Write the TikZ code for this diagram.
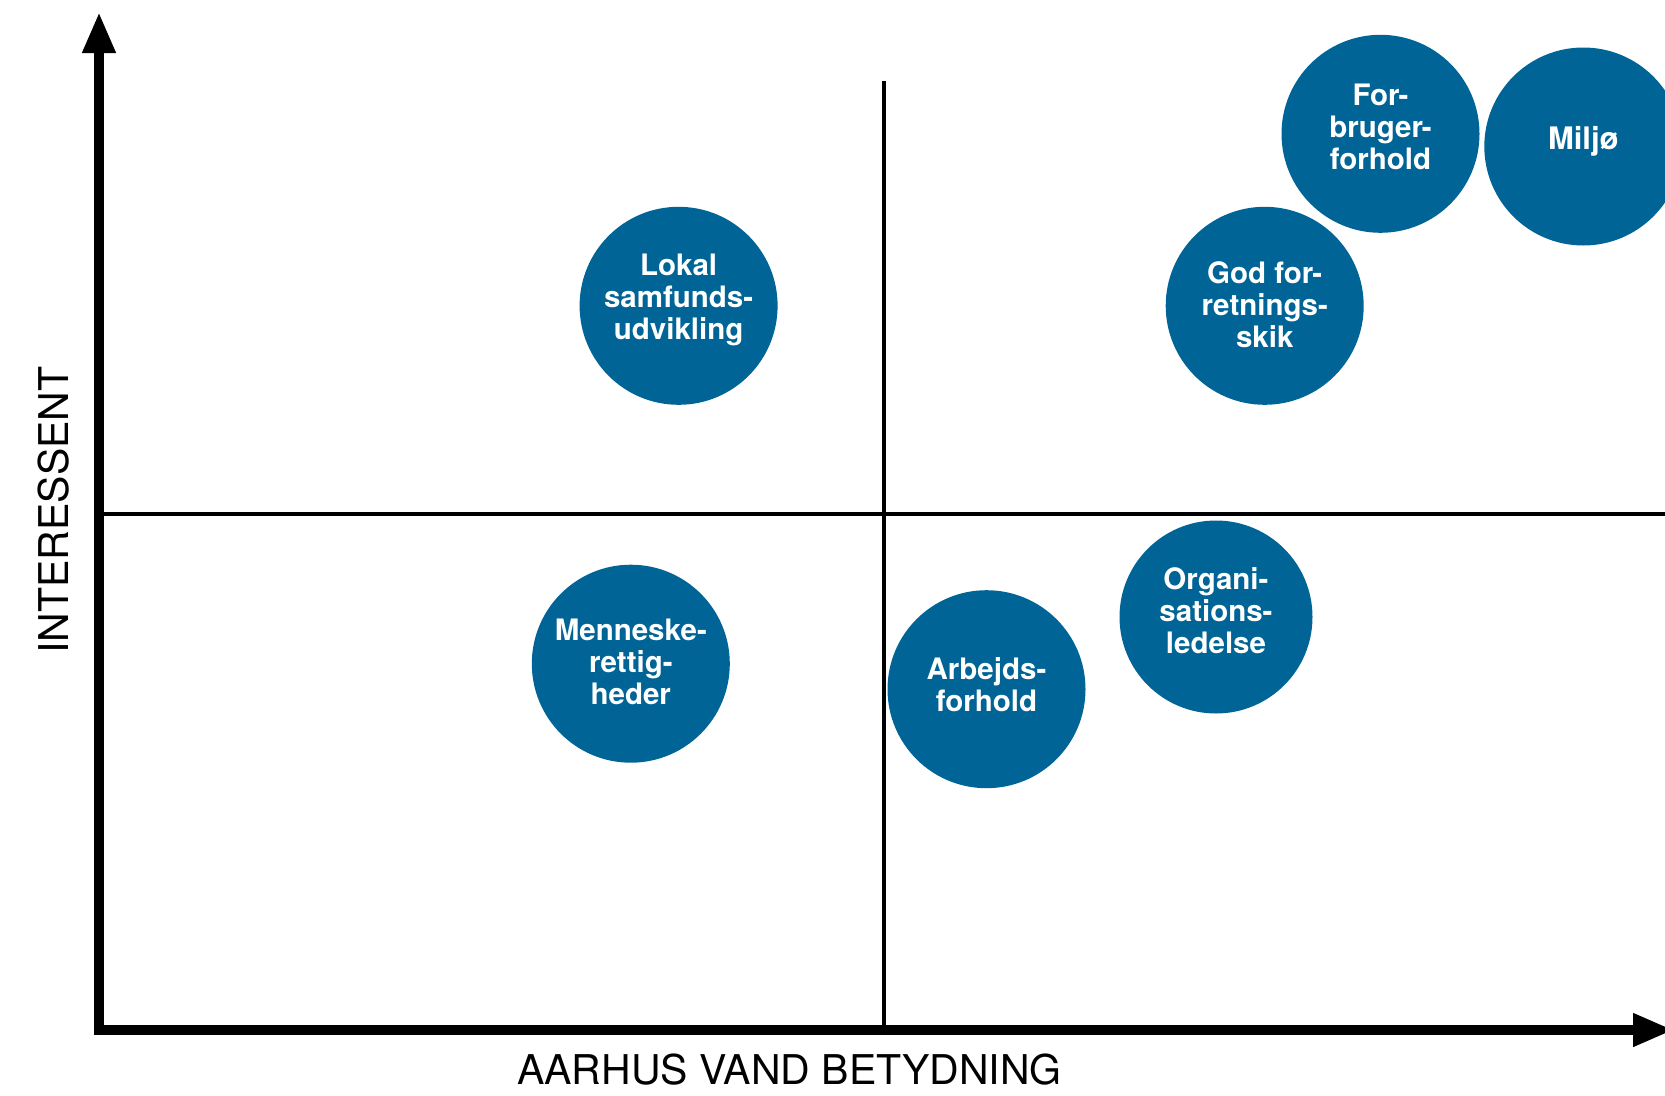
\documentclass[tikz,border=0pt]{standalone}
\usepackage{fontspec}
\setmainfont{TeX Gyre Heros}
\usetikzlibrary{arrows.meta}
\definecolor{bubblecol}{RGB}{0,101,150}
\tikzset{
  bubble/.style={circle, fill=bubblecol, draw=none, inner sep=0pt, minimum size=198pt},
  btext/.style={text=white, align=center, inner sep=0pt, font=\fontsize{29.5}{32}\selectfont\bfseries},
  axis/.style={line width=10pt, draw=black, -{Triangle[width=31pt,length=41pt]}},
  quadline/.style={line width=3.5pt, draw=black},
  axlabel/.style={inner sep=0pt, font=\fontsize{41}{45}\selectfont}
}
\begin{document}
\begin{tikzpicture}[x=1pt,y=-1pt]
\useasboundingbox (0,0) rectangle (1665,1095);
\clip (0,0) rectangle (1665,1095);
% quadrant lines
\coordinate (vtop) at (884,80.5);
\coordinate (vbot) at (884,1025);
\coordinate (hleft) at (103,514);
\coordinate (hright) at (1665,514);
\draw[quadline] (vtop) -- (vbot);
\draw[quadline] (hleft) -- (hright);
% axes
\coordinate (ybase) at (99,1035);
\coordinate (ytip) at (99,12);
\coordinate (xbase) at (94,1030);
\coordinate (xtip) at (1674,1030);
\draw[axis] (ybase) -- (ytip);
\draw[axis] (xbase) -- (xtip);
% axis labels
\node[axlabel] (xlabel) at (789.5,1070) {AARHUS VAND BETYDNING};
\node[axlabel, rotate=90] (ylabel) at (54,510) {INTERESSENT};
% bubbles
\node[bubble] (lokal) at (678.6,305.8) {};
\node[btext] (lokalt) at (678.6,300) {Lokal\\samfunds-\\udvikling};
\node[bubble] (menneske) at (630.8,663.7) {};
\node[btext] (mennesket) at (630.8,662) {Menneske-\\rettig-\\heder};
\node[bubble] (arbejds) at (986.5,689.2) {};
\node[btext] (arbejdst) at (986.5,684.4) {Arbejds-\\forhold};
\node[bubble, minimum size=193pt] (organi) at (1216,617) {};
\node[btext] (organit) at (1216,610.6) {Organi-\\sations-\\ledelse};
\node[bubble] (god) at (1264.7,305.8) {};
\node[btext] (godt) at (1264.7,304.8) {God for-\\retnings-\\skik};
\node[bubble] (forbruger) at (1380.5,133.8) {};
\node[btext] (forbrugert) at (1380.5,126.4) {For-\\bruger-\\forhold};
\node[bubble] (miljo) at (1583.3,146.5) {};
\node[btext, font=\fontsize{31}{34}\selectfont\bfseries] (miljot) at (1583.3,141) {Miljø};
\end{tikzpicture}
\end{document}
